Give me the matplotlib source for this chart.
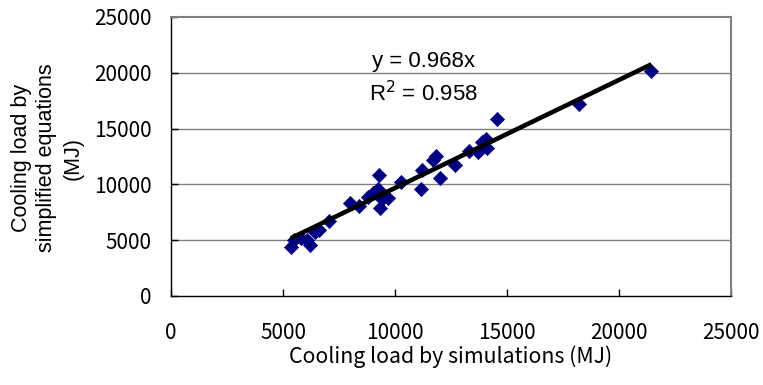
import matplotlib
matplotlib.use("Agg")
import matplotlib.pyplot as plt
import numpy as np

# Data
sim_load = [5350, 5500, 5800, 6050, 6200, 6450, 6600, 7050, 8000, 8400, 8800, 9000,
            9250, 9300, 9330, 9400, 9700, 10250, 11150, 11200, 11700, 11850, 12000,
            12700, 13300, 13700, 13900, 14050, 14100, 14550, 18200, 21450]
eq_load = [4400, 5050, 5200, 5050, 4600, 5700, 5900, 6750, 8300, 8050, 8900, 9200,
           9600, 10850, 7900, 8650, 8750, 10200, 9600, 11300, 12200, 12550, 10550,
           11700, 12950, 12900, 13800, 14100, 13250, 15850, 17200, 20200]
slope = 0.968
r2 = 0.958
ticks = [0, 5000, 10000, 15000, 20000, 25000]

W, H = 763, 385
fig = plt.figure(figsize=(W / 100, H / 100), dpi=100)
ax = fig.add_axes([171 / W, 1 - 296 / H, (731 - 171) / W, (296 - 17) / H])

ax.set_xlim(0, 25000)
ax.set_ylim(0, 25000)
ax.set_xticks(ticks)
ax.set_yticks(ticks)

for t in ticks[1:-1]:
    ax.axhline(t, color="#808080", lw=1.0, zorder=1)

ax.scatter(sim_load, eq_load, marker="D", s=7.2 ** 2, color="#000080",
           edgecolors="#000080", linewidths=0.5, zorder=3)

xs = np.array([min(sim_load), max(sim_load)])
ax.plot(xs, slope * xs, color="black", lw=3.3, zorder=4, solid_capstyle="butt")

for s in ["top", "right"]:
    ax.spines[s].set_color("#808080")
    ax.spines[s].set_linewidth(1.5)
for s in ["left", "bottom"]:
    ax.spines[s].set_color("black")
    ax.spines[s].set_linewidth(1.0)

jp = ["Noto Sans CJK JP", "DejaVu Sans"]
ax.tick_params(axis="both", direction="in", length=5, width=1, labelsize=15)
ax.tick_params(axis="x", pad=19)
ax.tick_params(axis="y", pad=14)
for lab in ax.get_xticklabels() + ax.get_yticklabels():
    lab.set_fontfamily(jp)

ax.set_xlabel("Cooling load by simulations (MJ)", fontsize=15.3, family=jp, labelpad=1)
fig.text(47 / W, 1 - 158 / H, "Cooling load by\nsimplified equations\n(MJ)",
         rotation=90, ha="center", va="center", fontsize=15.5,
         family="Liberation Sans", linespacing=1.3, multialignment="center")

ax.text(11250, 21050, f"y = {slope:.3f}x", fontsize=16, family="Liberation Sans",
        ha="center", va="center")
ax.text(11250, 18150, f"R$^2$ = {r2:.3f}", fontsize=16, family="Liberation Sans",
        ha="center", va="center")

fig.savefig("out.png", dpi=100)
